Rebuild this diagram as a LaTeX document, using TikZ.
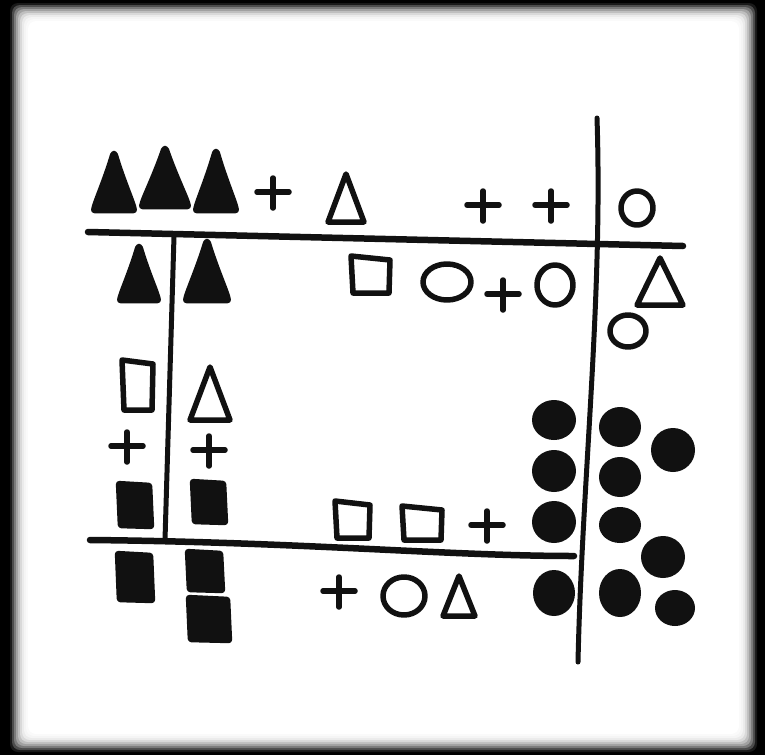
\documentclass[tikz,border=0pt]{standalone}
\usepackage{tikz}
\usetikzlibrary{calc}
\definecolor{ink}{HTML}{111111}
\definecolor{paper}{HTML}{FEFEFE}

\begin{document}
\begin{tikzpicture}[x=1pt,y=-1pt,line cap=round,line join=round,
  rule/.style={draw=ink,line width=6.5pt},
  stroke/.style={draw=ink,line width=5.5pt},
  blot/.style={fill=ink,draw=ink,line width=2.5pt,rounded corners=2.5pt}]
  \fill[black] (0,0) rectangle (765,755);
  \foreach \i/\p in {0/10,1/30,2/48,3/63,4/75,5/85,6/92,7/96,8/98,9/100}
    \fill[white!\p!black,rounded corners=8pt] (10+2*\i,3+2*\i) rectangle (757-2*\i,752-2*\i);

  \coordinate (topW) at (88,232);
  \coordinate (topE) at (683,246);
  \coordinate (botW) at (90,540);
  \coordinate (botE) at (574,556);
  \coordinate (rightN) at (597,118);
  \coordinate (rightS) at (578,662);
  \coordinate (leftN) at (174,236);
  \coordinate (leftS) at (165,540);
  \draw[rule] (topW) -- (topE);
  \draw[rule] (botW) .. controls (300,542) and (450,556) .. (botE);
  \draw[rule,line width=5pt] (rightN) .. controls (603,300) and (582,480) .. (rightS);
  \draw[rule,line width=5pt] (leftN) -- (leftS);

  \foreach \x/\y/\w/\h in {114/152/22/60,165/147/25/61,216/150/22/62,139/245/21/57,207/240/23/62}
    \filldraw[blot] (\x-2,\y) .. controls (\x-0.5*\w,\y+0.5*\h) and (\x-0.95*\w,\y+0.85*\h) .. (\x-\w,\y+\h)
      -- (\x+\w,\y+\h) .. controls (\x+0.95*\w,\y+0.85*\h) and (\x+0.5*\w,\y+0.5*\h) .. (\x+2,\y) -- cycle;
  \foreach \x/\y/\w/\h in {346/174/18/48,660/258/23/47,210/367/20/53,459/576/16/40}
    \draw[stroke] (\x,\y) -- (\x-\w,\y+\h) -- (\x+\w,\y+\h) -- cycle;
  \foreach \x/\y/\a/\b in {637/208/16/17,447/282/24/18,555/285/18/20,628/331/18/16,404/596/21/19}
    \draw[stroke] (\x,\y) ellipse ({\a} and {\b});
  \foreach \x/\y/\u/\v in {351/256/390/293,122/360/153/410,335/501/370/538,402/506/442/540}
    \draw[stroke] (\x,\y) -- (\u,\y+4) -- (\u-1,\v) -- (\x+2,\v) -- cycle;
  \foreach \x/\y in {273/192,483/205,551/205,503/294,127/446,209/450,487/525,339/591}
    \draw[stroke] (\x-16,\y) -- (\x+16,\y) (\x,\y-14) -- (\x,\y+16);
  \foreach \x/\y/\w/\h in {135/505/18/23,209/502/18/22,135/577/19/25,205/571/19/21,209/619/22/23}
    \filldraw[blot] (\x-\w,\y-\h) -- (\x+\w-2,\y-\h+2) -- (\x+\w,\y+\h) -- (\x-\w+2,\y+\h-1) -- cycle;
  \foreach \x/\y/\a/\b in {554/420/22/20,554/471/22/21,554/522/22/21,554/593/21/23,620/427/21/20,620/477/21/20,620/525/21/18,620/593/21/24,673/450/22/22,663/557/22/21,675/608/20/18}
    \fill[ink] (\x,\y) ellipse ({\a} and {\b});
\end{tikzpicture}
\end{document}
